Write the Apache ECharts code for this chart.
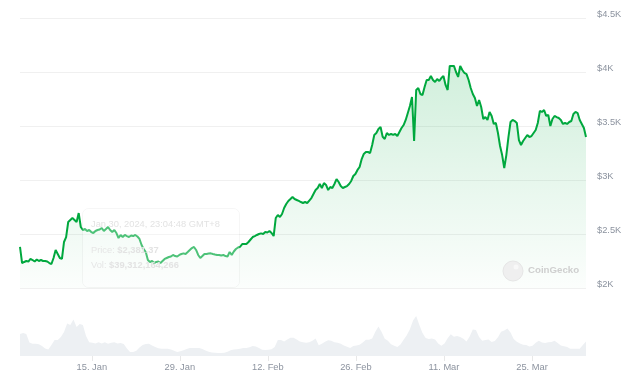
<!DOCTYPE html>
<html>
<head>
<meta charset="utf-8">
<script src="https://cdn.jsdelivr.net/npm/echarts@6/dist/echarts.min.js"></script>
<style>
html,body{margin:0;padding:0;background:#fff;}
#chart{width:637px;height:384px;}
</style>
</head>
<body>
<div id="chart"></div>
<script>
// ---- data ----
const startTime = Date.UTC(2024, 0, 3, 14);   // first sample
const endTime = Date.UTC(2024, 3, 2, 14);     // last sample
const priceStepHours = 8;
const volumeStepHours = 12;

// ETH price (USD), one value every 8 hours
const prices = [
2380,2231,2241,2250,2245,2269,2259,2245,2264,2250,
2259,2250,2250,2245,2231,2222,2278,2352,2315,2278,
2269,2426,2472,2611,2630,2648,2630,2611,2694,2565,
2537,2546,2528,2537,2518,2509,2528,2537,2542,2556,
2528,2546,2565,2537,2518,2537,2509,2463,2491,2472,
2491,2481,2472,2486,2481,2491,2477,2454,2398,2361,
2333,2259,2241,2250,2231,2241,2245,2231,2250,2269,
2278,2287,2292,2306,2296,2292,2306,2315,2321,2315,
2333,2352,2370,2380,2352,2306,2278,2296,2315,2315,
2320,2321,2315,2310,2306,2306,2301,2306,2296,2292,
2333,2306,2338,2361,2375,2382,2407,2407,2407,2426,
2449,2472,2481,2491,2500,2506,2500,2518,2514,2528,
2509,2481,2648,2676,2657,2685,2741,2778,2806,2824,
2843,2824,2815,2806,2796,2787,2796,2787,2810,2833,
2870,2907,2926,2963,2926,2972,2954,2907,2935,2926,
2963,3009,2981,2944,2926,2935,2944,2963,2991,3037,
3056,3093,3120,3194,3241,3259,3259,3250,3324,3417,
3435,3472,3491,3400,3380,3435,3417,3426,3417,3426,
3407,3444,3481,3509,3556,3620,3685,3769,3361,3833,
3852,3796,3787,3861,3926,3926,3963,3926,3907,3935,
3917,3944,3963,3880,3833,4056,4056,4056,4000,3954,
4056,4019,3991,3981,3926,3852,3796,3759,3685,3741,
3676,3565,3583,3556,3630,3593,3519,3528,3435,3315,
3231,3111,3231,3398,3537,3556,3546,3528,3370,3324,
3361,3389,3417,3398,3407,3435,3463,3528,3639,3630,
3648,3593,3602,3500,3565,3593,3583,3574,3556,3519,
3528,3519,3537,3546,3611,3630,3620,3556,3519,3481,
3398
];

// 24h volume (billion USD), one value every 12 hours
const volumes = [
33,34.5,33,20.3,18.5,18.5,17.7,15,11.3,9.8,
16.5,24,24,28.5,36,48.8,46.5,54.8,43.5,48,
46.5,30,20.7,20,18.8,20.6,18.8,20.7,18.5,19.8,
20.7,18.9,19.5,18,11.3,6,6,8,12.8,16.5,
18,18.5,15.8,13.5,11.6,11,11,11,9.8,7.8,
6,7.1,8.7,10.5,12,12,12,12,10.5,8.3,
6.5,5.4,4.7,4.5,4.5,5,6.3,8.7,9.6,10,
11,12,12,13.2,14.9,14.1,12,9.3,9,9.5,
10.2,13.5,24,24,21.8,24.8,27.5,27.5,24.8,21.8,
20.7,20,20.7,23,26.3,16.2,18.3,21.3,23.6,22.8,
20.7,19.8,18.2,15.6,13.7,12,15,15.9,16.8,20.3,
24.3,24.5,26.4,36.5,44.3,36,25.8,23,17.7,15.5,
13.5,17.4,24.5,31,40,53.3,60,46.5,34.5,27,
25.5,26.1,24.6,18.8,15.3,18.8,26.6,32.6,28.8,30,
28.5,25.8,21.9,29.3,39.6,39,28.5,22.7,24,24.8,
21,22.5,28.2,36.3,38.1,41.1,35.1,25.4,21.5,18.8,
17,16.4,14.3,15.3,20,22.8,20.3,19.5,20.7,21,
22.8,19.5,15.9,14.7,13.5,11,11,11,11,16.5,
21.8
];

const xTickDates = ['2024-01-15','2024-01-29','2024-02-12','2024-02-26','2024-03-11','2024-03-25'];
const xTickLabels = ['15. Jan','29. Jan','12. Feb','26. Feb','11. Mar','25. Mar'];
const yTickValues = [2000,2500,3000,3500,4000,4500];
const yTickLabels = ['$2K','$2.5K','$3K','$3.5K','$4K','$4.5K'];

// ---- build ----
const H = 3600 * 1000;
const priceData = prices.map((p, i) => [startTime + i * priceStepHours * H, p]);
const volumeData = volumes.map((v, i) => [startTime + i * volumeStepHours * H, v]);
const xTickValues = xTickDates.map(d => Date.parse(d + 'T00:00:00Z'));

const FONT = 'Liberation Sans, Arial, sans-serif';
const LABEL_COLOR = '#8c939f';
const GREEN = '#00a83e';

const chart = echarts.init(document.getElementById('chart'), null, {renderer: 'canvas'});
chart.setOption({
  animation: false,
  backgroundColor: '#ffffff',
  grid: [
    {left: 20, right: 51, top: 18, bottom: 96},
    {left: 20, right: 51, top: 296, bottom: 28}
  ],
  xAxis: [
    {type: 'value', gridIndex: 0, min: startTime, max: endTime, show: false, splitLine: {show: false}},
    {
      type: 'value', gridIndex: 1, min: startTime, max: endTime,
      axisLine: {show: false},
      splitLine: {show: false},
      axisTick: {show: true, customValues: xTickValues, length: 5, lineStyle: {color: '#e8e8e8'}},
      axisLabel: {
        customValues: xTickValues,
        showMinLabel: true, showMaxLabel: true,
        margin: 7,
        color: LABEL_COLOR, fontFamily: FONT, fontSize: 9.3,
        formatter: v => xTickLabels[xTickValues.indexOf(v)] || ''
      }
    }
  ],
  yAxis: [
    {
      type: 'value', gridIndex: 0, position: 'right',
      min: 2000, max: 4500, interval: 500,
      axisLine: {show: false}, axisTick: {show: false},
      splitLine: {show: true, lineStyle: {color: '#f0f0f0', width: 1}},
      axisLabel: {
        margin: 11, color: LABEL_COLOR, fontFamily: FONT, fontSize: 9.3,
        verticalAlign: 'bottom', lineHeight: 7,
        formatter: v => yTickLabels[yTickValues.indexOf(v)] || ''
      }
    },
    {type: 'value', gridIndex: 1, min: 0, max: 90, show: false, splitLine: {show: false}}
  ],
  series: [
    {
      type: 'line', xAxisIndex: 1, yAxisIndex: 1, data: volumeData,
      showSymbol: false, symbol: 'none',
      lineStyle: {width: 0},
      areaStyle: {color: '#edf0f3', opacity: 1},
      z: 1
    },
    {
      type: 'line', xAxisIndex: 0, yAxisIndex: 0, data: priceData,
      showSymbol: false, symbol: 'none',
      lineStyle: {width: 2, color: GREEN},
      areaStyle: {
        color: new echarts.graphic.LinearGradient(0, 0, 0, 1, [
          {offset: 0, color: 'rgba(0,168,62,0.26)'},
          {offset: 1, color: 'rgba(0,168,62,0.02)'}
        ])
      },
      z: 3
    }
  ],
  graphic: [
    {
      type: 'rect', left: 82, top: 208, z: 50,
      shape: {width: 157, height: 79, r: 6},
      style: {fill: 'rgba(255,255,255,0.3)', stroke: 'rgba(0,0,0,0.035)', lineWidth: 1}
    },
    {
      type: 'text', left: 91, top: 220, z: 51,
      style: {text: 'Jan 30, 2024, 23:04:48 GMT+8', fill: '#e3e3e3', font: '9.3px Liberation Sans, Arial, sans-serif'}
    },
    {
      type: 'text', left: 91, top: 246, z: 51,
      style: {
        text: '{a|Price: }{b|$2,381.37}',
        rich: {
          a: {fill: '#e6e6e6', fontSize: 9.3, fontFamily: FONT},
          b: {fill: '#e3e3e3', fontSize: 9.3, fontFamily: FONT, fontWeight: 'bold'}
        }
      }
    },
    {
      type: 'text', left: 91, top: 261, z: 51,
      style: {
        text: '{a|Vol: }{b|$39,312,164,266}',
        rich: {
          a: {fill: '#e6e6e6', fontSize: 9.3, fontFamily: FONT},
          b: {fill: '#e3e3e3', fontSize: 9.3, fontFamily: FONT, fontWeight: 'bold'}
        }
      }
    },
    {
      type: 'circle', z: 40,
      shape: {cx: 513, cy: 271, r: 10},
      style: {fill: '#efefef', stroke: '#e6e6e6', lineWidth: 1}
    },
    {
      type: 'circle', z: 41,
      shape: {cx: 516, cy: 267, r: 2.5},
      style: {fill: '#f8f8f8'}
    },
    {
      type: 'text', left: 528, top: 265, z: 41,
      style: {text: 'CoinGecko', fill: '#cfcfcf', font: 'bold 9.7px Liberation Sans, Arial, sans-serif'}
    }
  ]
});
</script>
</body>
</html>
